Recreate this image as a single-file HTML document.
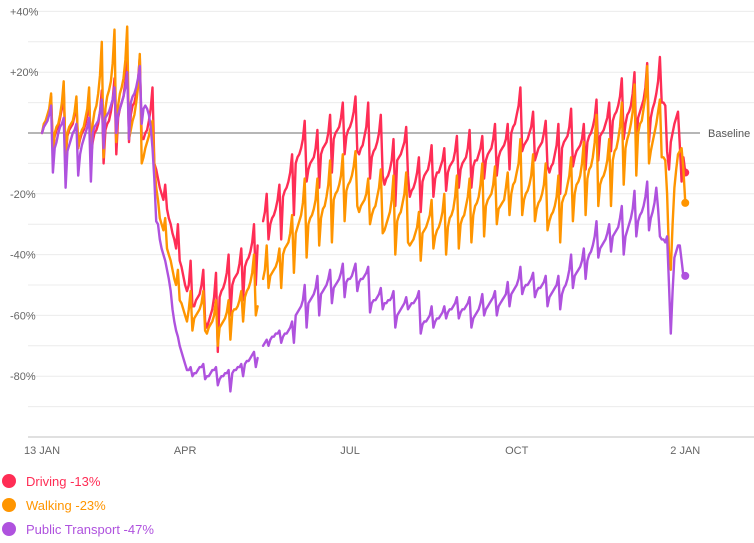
<!DOCTYPE html>
<html><head><meta charset="utf-8"><style>
html,body{margin:0;padding:0;background:#fff;}
svg{display:block;font-family:"Liberation Sans",sans-serif;}
</style></head><body>
<svg id="chart" width="754" height="543" viewBox="0 0 754 543">
<g id="grid"></g>
<g id="ylabels"></g>
<g id="xlabels"></g>
<g id="series"></g>
<g id="legend">
 <g><circle cx="9" cy="481" r="7" fill="#ff2d55"/><text id="lg0" x="26" y="486" font-size="13" fill="#ff2d55">Driving -13%</text></g>
 <g><circle cx="9" cy="505" r="7" fill="#ff9500"/><text id="lg1" x="26" y="510" font-size="13" fill="#ff9500">Walking -23%</text></g>
 <g><circle cx="9" cy="529" r="7" fill="#af52de"/><text id="lg2" x="26" y="534" font-size="13" fill="#af52de">Public Transport -47%</text></g>
</g>
</svg>
<script>
const yTicks=[40,20,-20,-40,-60,-80];
const yTickLabels=["+40%","+20%","-20%","-40%","-60%","-80%"];
const xTickDays=[0,79,170,262,355];
const xTickLabels=["13 JAN","APR","JUL","OCT","2 JAN"];
const driving=[0,2,3,4,7,12,-5,-1,1,2,5,8,15,-8,-1,1,2,3,6,10,-5,-2,0,1,3,6,12,-8,-3,0,1,3,7,14,-10,1,3,4,7,11,18,-7,5,8,10,12,17,25,-3,6,9,10,13,17,25,-2,-2,0,1,4,8,15,-10,
-12,-15,-18,-20,-22,-17,-25,-28,-30,-33,-35,-38,-30,-42,-44,-47,-50,-52,-50,-42,-57,-57,-55,-54,-53,-50,-45,-62,-64,-62,-60,-58,-54,-46,-72,-54,-52,-51,-49,-46,-40,-60,-50,-48,-47,-46,-43,-38,-55,-44,-42,-41,-39,-36,-30,-50,
-37,null,null,-29,-26,-20,-35,-30,-28,-27,-25,-22,-17,-35,-21,-19,-18,-16,-13,-7,-27,-10,-8,-7,-5,-2,4,-16,-12,-10,-9,-8,-5,1,-18,-7,-5,-4,-3,0,6,-13,-2,0,1,2,5,10,-7,-1,1,2,4,7,12,-6,-7,-5,-4,-1,2,10,-15,-8,-6,-5,-3,0,6,-14,
-17,-15,-14,-12,-9,-2,-24,-9,-8,-7,-5,-3,2,-14,-21,-19,-18,-16,-13,-8,-26,-16,-14,-13,-12,-9,-4,-21,-15,-13,-13,-11,-9,-5,-19,-13,-11,-10,-9,-6,-1,-18,-12,-10,-9,-8,-5,1,-18,-11,-9,-9,-7,-5,-1,-15,-9,-7,-6,-5,-2,3,-14,-8,-6,-5,-4,-2,3,-12,
0,2,3,6,9,15,-6,-4,-3,-2,0,2,7,-9,-7,-5,-4,-3,0,4,-11,-13,-11,-10,-7,-4,3,-20,-5,-3,-2,-1,2,8,-11,-8,-6,-5,-4,-2,3,-12,-3,-1,0,2,5,11,-9,-1,0,1,3,5,10,-6,4,6,7,9,12,18,-2,3,6,7,9,13,20,-4,5,7,9,11,15,23,-3,
5,8,10,13,17,25,10,10,9,-6,-12,-3,0,3,5,7,-4,-16,-8,-13];
const walking=[0,3,4,6,8,13,-8,0,2,3,6,10,17,-8,0,2,3,4,7,12,-5,-1,1,2,5,8,15,-8,3,7,9,13,19,30,-8,8,12,14,17,23,34,-3,9,13,15,18,24,35,-2,1,4,6,10,15,26,-10,-8,-5,-3,-1,2,4,-10,
-18,-22,-28,-30,-32,-28,-38,-40,-42,-45,-48,-50,-45,-55,-56,-58,-60,-62,-58,-52,-65,-61,-60,-59,-58,-56,-52,-65,-66,-64,-63,-62,-60,-55,-70,-64,-63,-62,-61,-59,-55,-68,-59,-58,-58,-57,-55,-52,-62,-54,-52,-51,-49,-46,-40,-60,
-57,null,null,-48,-45,-37,-51,-47,-46,-45,-44,-42,-38,-51,-40,-38,-37,-36,-33,-27,-46,-33,-31,-29,-27,-23,-15,-41,-30,-28,-27,-25,-22,-15,-37,-28,-25,-24,-21,-17,-9,-36,-22,-20,-19,-17,-14,-7,-29,-19,-17,-16,-14,-11,-6,-24,-26,-24,-23,-22,-20,-15,-30,-27,-25,-24,-21,-18,-12,-33,
-32,-30,-28,-26,-22,-14,-40,-29,-27,-26,-23,-20,-13,-36,-37,-36,-35,-33,-31,-26,-42,-33,-32,-31,-29,-27,-22,-38,-34,-32,-31,-29,-26,-20,-40,-31,-28,-27,-25,-21,-14,-38,-30,-28,-27,-24,-21,-15,-36,-27,-24,-23,-21,-17,-10,-34,-24,-22,-21,-20,-17,-11,-30,-25,-24,-23,-22,-18,-13,-27,
-20,-17,-16,-13,-10,-2,-27,-22,-20,-19,-17,-14,-7,-29,-25,-23,-22,-20,-17,-10,-32,-29,-27,-26,-24,-21,-14,-36,-23,-21,-20,-17,-14,-8,-29,-20,-17,-16,-14,-10,-3,-27,-15,-12,-11,-8,-3,6,-24,-17,-15,-14,-12,-9,-2,-24,-9,-6,-5,-2,2,10,-17,-5,-2,0,3,7,16,-14,0,3,4,8,12,22,-10,
-6,-3,0,3,7,11,-8,-8,-9,-20,-40,-45,-30,-18,-12,-7,-6,-5,-12,-23];
const transit=[0,2,3,4,6,9,-13,-5,-3,0,2,3,5,-18,-6,-4,-2,0,1,3,-14,-7,-4,-2,0,2,5,-16,0,2,3,4,7,11,-5,5,6,7,9,11,15,0,6,8,10,12,15,20,-2,10,12,13,15,18,22,3,8,9,8,6,2,-5,-15,
-29,-30,-35,-38,-40,-42,-45,-48,-52,-58,-62,-65,-67,-70,-72,-74,-76,-78,-78,-77,-80,-79,-79,-78,-77,-77,-76,-81,-80,-80,-79,-78,-78,-77,-83,-81,-80,-80,-79,-79,-78,-85,-79,-78,-78,-77,-77,-76,-80,-76,-75,-75,-74,-73,-72,-77,
-74,null,null,-70,-69,-68,-70,-68,-67,-67,-66,-66,-65,-69,-67,-66,-66,-65,-64,-62,-69,-60,-59,-58,-57,-55,-50,-64,-56,-55,-54,-53,-51,-47,-60,-53,-52,-51,-50,-48,-45,-56,-51,-50,-49,-48,-46,-43,-54,-49,-48,-48,-47,-45,-43,-52,-49,-48,-48,-47,-46,-44,-59,-56,-55,-55,-54,-53,-51,-58,
-56,-56,-55,-55,-54,-52,-64,-60,-59,-58,-57,-56,-54,-58,-57,-56,-56,-55,-54,-52,-66,-63,-62,-62,-61,-60,-57,-64,-62,-61,-61,-60,-59,-57,-61,-59,-58,-58,-57,-56,-54,-61,-59,-58,-58,-57,-56,-54,-64,-61,-60,-59,-58,-56,-53,-60,-58,-57,-56,-55,-54,-52,-60,-57,-56,-55,-54,-53,-49,-57,
-53,-52,-51,-50,-48,-44,-53,-51,-50,-50,-49,-48,-46,-54,-52,-51,-51,-50,-49,-47,-57,-54,-53,-52,-51,-50,-47,-58,-53,-51,-50,-48,-45,-40,-51,-47,-46,-45,-44,-42,-38,-48,-42,-40,-39,-37,-34,-29,-41,-38,-37,-36,-35,-33,-30,-39,-34,-33,-32,-31,-28,-24,-40,-34,-32,-30,-28,-25,-19,-34,-29,-27,-26,-24,-21,-16,-32,
-28,-26,-23,-18,-25,-34,-35,-35,-36,-34,-50,-66,-52,-41,-39,-37,-37,-42,-47,-47];
const seriesNames=["driving","walking","public-transport"];
const seriesColors=["#ff2d55","#ff9500","#af52de"];

const NS="http://www.w3.org/2000/svg";
const X0=42, DX=1.812, Y0=133, DY=3.04;
function xs(d){return X0+d*DX;}
function ys(v){return Y0-v*DY;}
function mk(tag,attrs,parent){const e=document.createElementNS(NS,tag);for(const k in attrs)e.setAttribute(k,attrs[k]);parent.appendChild(e);return e;}

const grid=document.getElementById('grid');
for(let v=40;v>=-90;v-=10){
  if(v===0)continue;
  const l=mk('line',{x1:28,x2:754,y1:ys(v),y2:ys(v),stroke:'#ececec','stroke-width':1},grid);
  
  
}
const ax=mk('line',{x1:28,x2:754,y1:ys(-100),y2:ys(-100),stroke:'#e0e0e0','stroke-width':2},grid);


const bl=mk('line',{x1:28,x2:700,y1:Y0,y2:Y0,stroke:'#8a8a8a','stroke-width':1.2},grid);


const blt=mk('text',{x:708,y:Y0+4,'font-size':11,fill:'#555'},grid);
blt.textContent='Baseline';



const yl=document.getElementById('ylabels');
yTicks.forEach((v,i)=>{
  const t=mk('text',{x:10,y:ys(v)+4,'font-size':11,fill:'#666'},yl);
  t.textContent=yTickLabels[i];
  
  
});
const xl=document.getElementById('xlabels');
xTickDays.forEach((d,i)=>{
  const t=mk('text',{x:xs(d),y:454,'font-size':11,fill:'#666','text-anchor':'middle'},xl);
  t.textContent=xTickLabels[i];
  
  
});

const sg=document.getElementById('series');
[driving,walking,transit].forEach((arr,si)=>{
  let d='',pen=false,last=null;
  arr.forEach((v,i)=>{
    if(v===null){pen=false;return;}
    d+=(pen?'L':'M')+xs(i).toFixed(1)+' '+ys(v).toFixed(1);
    pen=true;last=[i,v];
  });
  const p=mk('path',{d:d,fill:'none',stroke:seriesColors[si],'stroke-width':2.4,'stroke-linejoin':'round','stroke-linecap':'round'},sg);
  
  
  const c=mk('circle',{cx:xs(last[0]),cy:ys(last[1]),r:4,fill:seriesColors[si]},sg);
  
  
});
</script>
</body></html>
